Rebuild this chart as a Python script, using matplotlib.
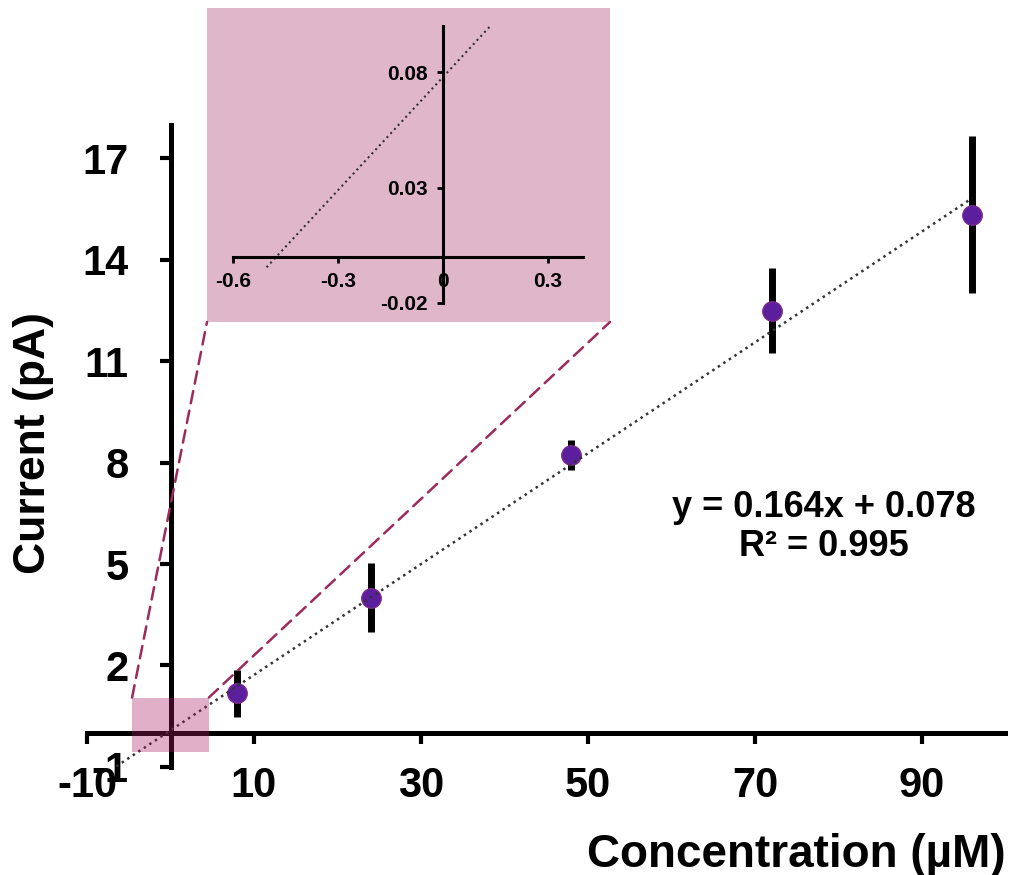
import numpy as np
from matplotlib import pyplot as plt
from matplotlib.patches import Rectangle, ConnectionPatch

# data
conc = [8, 24, 48, 72, 96]            # uM
current = [1.17, 4.0, 8.22, 12.49, 15.33]  # pA
err = [0.7, 1.02, 0.45, 1.26, 2.32]
slope, icept = 0.164, 0.078
fit_x = [-6.5, 96]
fit_x_in = [-0.504, 0.139]

xticks = [-10, 10, 30, 50, 70, 90]
yticks = [-1, 2, 5, 8, 11, 14, 17]
xticks_in = [-0.6, -0.3, 0, 0.3]
yticks_in = [-0.02, 0.03, 0.08]
zoom_box = (-4.6, -0.55, 9.2, 1.6)   # x, y, w, h in main data units

plt.rcParams['font.family'] = ['Liberation Sans', 'DejaVu Sans']
plt.rcParams['font.weight'] = 'bold'
plt.rcParams['axes.unicode_minus'] = False

pink = '#dfb7c9'
purple = '#5b1f9e'
dash_col = '#9c2a5c'

fig = plt.figure(figsize=(10.12, 8.75), dpi=100)
W, H = 1012., 875.
ax = fig.add_axes([87/W, (875-766.8)/H, 918.5/W, 642.2/H])
ax.set_xlim(-10, 100)
ax.set_ylim(-1, 18)
ax.patch.set_alpha(0)
for s in ['top', 'right']:
    ax.spines[s].set_visible(False)
ax.spines['left'].set_position(('data', 0))
ax.spines['bottom'].set_position(('data', 0))
for s in ['left', 'bottom']:
    ax.spines[s].set_linewidth(3.6)
ax.set_xticks(xticks)
ax.set_yticks(yticks)
ax.tick_params(axis='both', direction='out', length=8, width=3, labelsize=30)
ax.tick_params(axis='y', pad=22)
ax.tick_params(axis='x', pad=16)

fx = np.array(fit_x)
ax.plot(fx, slope*fx + icept, ':', color='#333333', lw=1.8, zorder=4)
ax.errorbar(conc, current, yerr=err, fmt='o', ms=14, mfc=purple, mec='#7d2a8c',
            mew=1, ecolor='black', elinewidth=5, capsize=0, zorder=3)

bx, by, bw, bh = zoom_box
ax.add_patch(Rectangle((bx, by), bw, bh, facecolor='#aa1e64', alpha=0.35,
                       edgecolor='none', zorder=5))

fig.text(796/W, 1-855/H, 'Concentration (\u00b5M)', fontsize=33, ha='center', va='center')
fig.text(34/W, 1-443/H, 'Current (pA)', fontsize=32, ha='center', va='center', rotation=90)
fig.text(824/W, 1-527/H, 'y = 0.164x + 0.078\nR\u00b2 = 0.995', fontsize=26,
         ha='center', va='center', multialignment='center', linespacing=1.15)

# inset
axi = fig.add_axes([207/W, (875-322)/H, 403/W, 314/H])
axi.set_facecolor(pink)
axi.set_xlim(-0.674, 0.477)
axi.set_ylim(-0.0284, 0.108)
for s in ['top', 'right']:
    axi.spines[s].set_visible(False)
axi.spines['left'].set_position(('data', 0))
axi.spines['bottom'].set_position(('data', 0))
axi.spines['left'].set_bounds(-0.02, 0.1)
axi.spines['bottom'].set_bounds(-0.6, 0.4)
for s in ['left', 'bottom']:
    axi.spines[s].set_linewidth(2.2)
axi.set_xticks(xticks_in)
axi.set_xticklabels(['-0.6', '-0.3', '0', '0.3'])
axi.set_yticks(yticks_in)
axi.set_yticklabels(['-0.02', '0.03', '0.08'])
axi.tick_params(axis='both', direction='out', length=4, width=2, labelsize=15, pad=7)
fxi = np.array(fit_x_in)
axi.plot(fxi, slope*fxi + icept, ':', color='#333333', lw=1.5)

for a, b in [((bx, by+bh), (0, 0)), ((bx+bw, by+bh), (1, 0))]:
    con = ConnectionPatch(xyA=a, coordsA=ax.transData, xyB=b, coordsB=axi.transAxes,
                          color=dash_col, lw=1.8, linestyle=(0, (5, 3)))
    fig.add_artist(con)

fig.savefig('out.png', dpi=100)
